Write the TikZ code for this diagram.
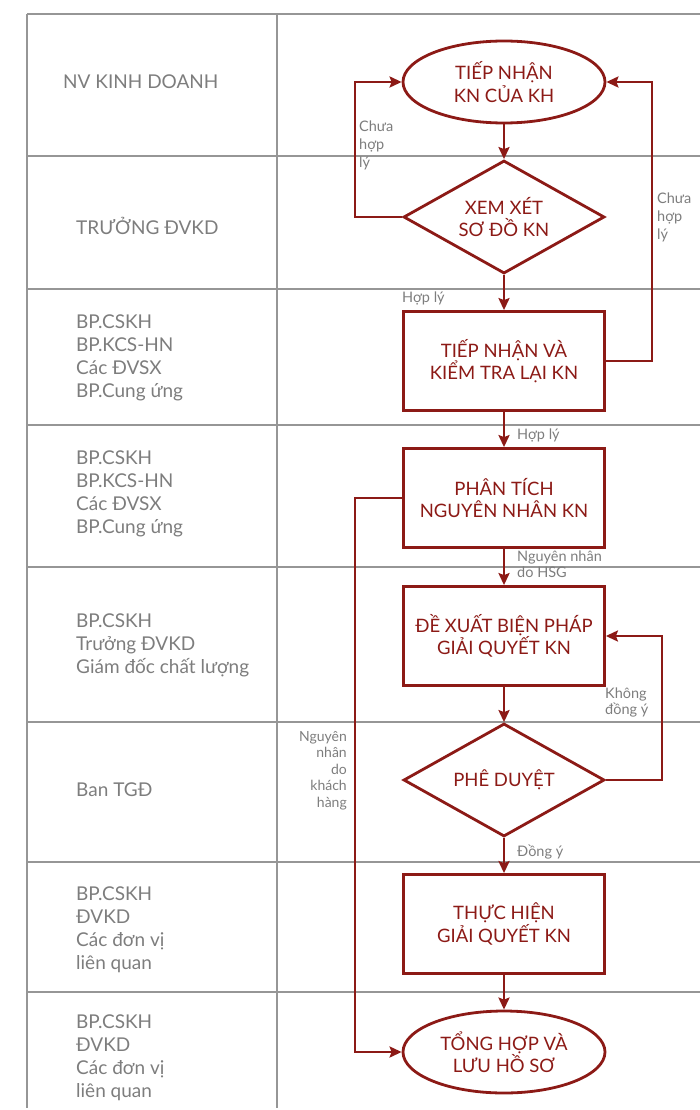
\documentclass[tikz,border=0pt]{standalone}
\usepackage{fontspec}
\setmainfont{Lato}
\usetikzlibrary{shapes.geometric,arrows.meta}
\definecolor{dred}{RGB}{140,26,22}
\definecolor{txtgray}{RGB}{125,125,125}
\definecolor{linegray}{RGB}{150,150,150}
\begin{document}
\begin{tikzpicture}[x=1pt,y=-1pt,
  gridline/.style={draw=linegray,line width=1.3pt},
  proc/.style={rectangle,draw=dred,line width=2.8pt,text=dred,align=center,
    font=\fontsize{18.5}{22.5}\selectfont,minimum width=201pt,minimum height=99pt,inner sep=0pt},
  term/.style={ellipse,draw=dred,line width=2.8pt,text=dred,align=center,
    font=\fontsize{18.5}{22.5}\selectfont,minimum width=202pt,minimum height=82pt,inner sep=0pt},
  decide/.style={diamond,aspect=1.78,draw=dred,line width=2.8pt,text=dred,align=center,
    font=\fontsize{18.5}{22.5}\selectfont,minimum width=201pt,minimum height=113pt,inner sep=0pt},
  lane/.style={text=txtgray,align=left,anchor=west,font=\fontsize{19}{23}\selectfont,inner sep=0pt},
  lbl/.style={text=txtgray,align=left,font=\fontsize{14.5}{18}\selectfont,inner sep=0pt},
  conn/.style={draw=dred,line width=2.8pt,-{Stealth[length=12pt,width=11pt,inset=2pt]}}]
\useasboundingbox (0,0) rectangle (700,1110);
% table
\foreach \yy in {14,156,289,425,567,722,862,992}{
  \draw[gridline] (27,\yy) -- (700,\yy);
}
\draw[gridline] (27,14) -- (27,1108);
\draw[gridline] (277,14) -- (277,1108);
% lane labels
\node[lane] (l1) at (63,82) {NV KINH DOANH};
\node[lane] (l2) at (76,226) {TRƯỞNG ĐVKD};
\node[lane] (l3) at (76,358) {BP.CSKH\\BP.KCS-HN\\Các ĐVSX\\BP.Cung ứng};
\node[lane] (l4) at (76,494) {BP.CSKH\\BP.KCS-HN\\Các ĐVSX\\BP.Cung ứng};
\node[lane] (l5) at (76,645) {BP.CSKH\\Trưởng ĐVKD\\Giám đốc chất lượng};
\node[lane] (l6) at (76,790) {Ban TGĐ};
\node[lane] (l7) at (76,930) {BP.CSKH\\ĐVKD\\Các đơn vị\\liên quan};
\node[lane] (l8) at (76,1058) {BP.CSKH\\ĐVKD\\Các đơn vị\\liên quan};
% nodes
\node[term] (e1) at (504,82) {TIẾP NHẬN\\KN CỦA KH};
\node[decide] (d1) at (504,217) {XEM XÉT\\SƠ ĐỒ KN};
\node[proc] (b1) at (504,361) {TIẾP NHẬN VÀ\\KIỂM TRA LẠI KN};
\node[proc] (b2) at (504,498) {PHÂN TÍCH\\NGUYÊN NHÂN KN};
\node[proc] (b3) at (504,636) {ĐỀ XUẤT BIỆN PHÁP\\GIẢI QUYẾT KN};
\node[decide] (d2) at (504,780) {PHÊ DUYỆT};
\node[proc] (b4) at (504,924) {THỰC HIỆN\\GIẢI QUYẾT KN};
\node[term] (e2) at (504,1052) {TỔNG HỢP VÀ\\LƯU HỒ SƠ};
% helper coordinates
\coordinate (xl) at (355,0);
\coordinate (xr1) at (652,0);
\coordinate (xr2) at (662,0);
% connectors
\draw[conn] (e1) -- (d1);
\draw[conn] (d1) -- (b1);
\draw[conn] (b1) -- (b2);
\draw[conn] (b2) -- (b3);
\draw[conn] (b3) -- (d2);
\draw[conn] (d2) -- (b4);
\draw[conn] (b4) -- (e2);
\draw[conn] (d1.west) -- (d1.west -| xl) |- (e1.west);
\draw[conn] (b1.east) -- (b1.east -| xr1) |- (e1.east);
\draw[conn] (b2.west) -- (b2.west -| xl) |- (e2.west);
\draw[conn] (d2.east) -- (d2.east -| xr2) |- (b3.east);
% labels
\node[lbl,anchor=north west] (t1) at (359,121) {Chưa\\hợp\\lý};
\node[lbl,anchor=north west] (t2) at (657,193) {Chưa\\hợp\\lý};
\node[lbl,anchor=west] (t3) at (402,298) {Hợp lý};
\node[lbl,anchor=west] (t4) at (517,435) {Hợp lý};
\node[lbl,anchor=north west,font=\fontsize{14.5}{15.5}\selectfont] (t5) at (517,551) {Nguyên nhân\\do HSG};
\node[lbl,anchor=north west,font=\fontsize{14.5}{16}\selectfont] (t6) at (605,688) {Không\\đồng ý};
\node[lbl,anchor=west] (t7) at (517,852) {Đồng ý};
\node[lbl,anchor=north east,align=right,font=\fontsize{14}{16.5}\selectfont] (t8) at (347,731) {Nguyên\\nhân\\do\\khách\\hàng};
\end{tikzpicture}
\end{document}
